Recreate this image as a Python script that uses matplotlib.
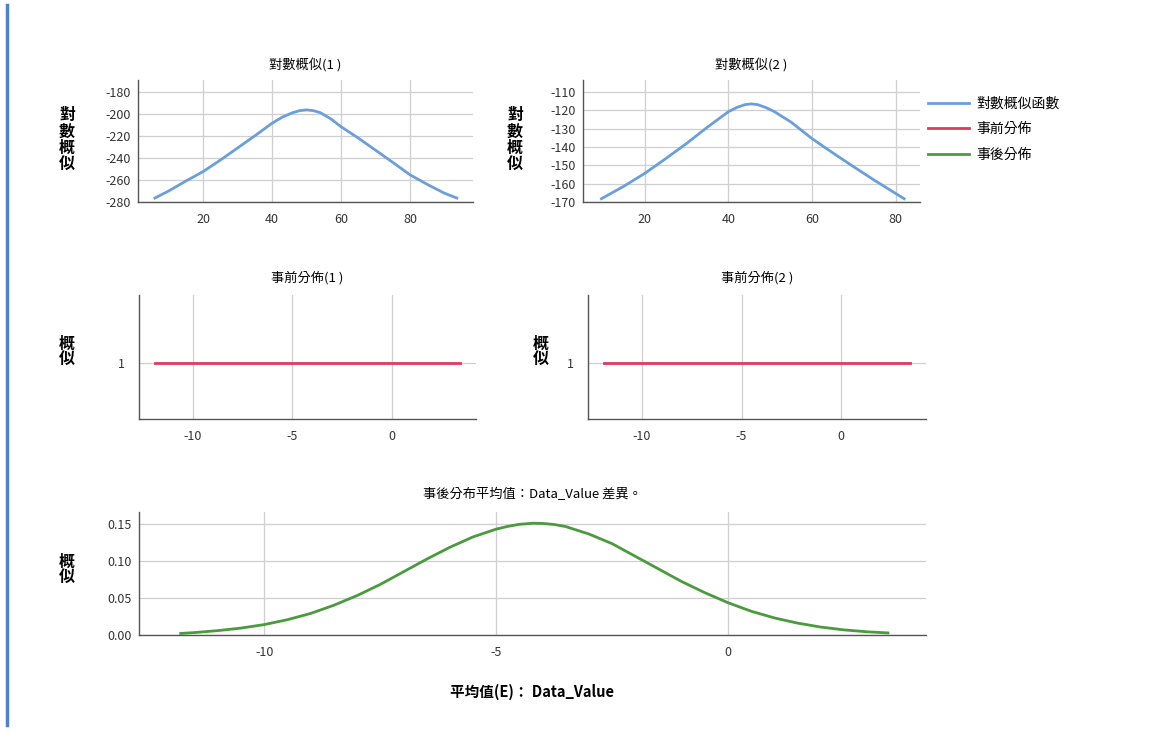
import matplotlib
matplotlib.use("Agg")
import matplotlib.pyplot as plt
from matplotlib.lines import Line2D

plt.rcParams['font.family'] = ['Noto Sans CJK TC', 'DejaVu Sans']
plt.rcParams['axes.unicode_minus'] = False

# ---------------- data ----------------
ll1_x = [6, 10, 15, 20, 25, 30, 35, 40, 43, 46, 48, 50, 52, 54, 57, 60, 65, 70, 75, 80, 85, 90, 93.6]
ll1_y = [-276.4, -270, -261, -252.4, -242, -231, -220, -208.6, -203, -199, -197.2, -196.5,
         -197.2, -199, -204.5, -211.7, -222, -233, -244, -255.3, -264, -272, -276.4]

ll2_x = [9.7, 15, 20, 25, 30, 35, 40, 42, 44, 45.4, 47, 49, 51, 55, 60, 65, 70, 75, 82]
ll2_y = [-168.2, -161.5, -154.5, -146.5, -138.2, -129.3, -120.9, -118.6, -117.0, -116.6,
         -117.0, -118.6, -120.8, -126.5, -135.5, -143.3, -150.9, -158.3, -168.2]

prior_x = [-11.9, 3.45]
prior_y = [1, 1]

post_x = [-11.8, -11.5, -11.0, -10.5, -10.0, -9.5, -9.0, -8.5, -8.0, -7.5, -7.0, -6.5,
          -6.0, -5.5, -5.0, -4.75, -4.5, -4.2, -4.0, -3.75, -3.5, -3.0, -2.5, -2.0, -1.5,
          -1.0, -0.5, 0.0, 0.5, 1.0, 1.5, 2.0, 2.5, 3.0, 3.45]
post_y = [0.0021, 0.0033, 0.0059, 0.0093, 0.0140, 0.0206, 0.0290, 0.0400, 0.0530, 0.0680,
          0.0850, 0.1020, 0.1180, 0.1320, 0.1425, 0.1462, 0.1490, 0.1505, 0.1502, 0.1488,
          0.1460, 0.1360, 0.1230, 0.1060, 0.0890, 0.0720, 0.0570, 0.0435, 0.0320, 0.0230,
          0.0160, 0.0107, 0.0069, 0.0043, 0.0028]

titles = ['對數概似(1 )', '對數概似(2 )', '事前分佈(1 )', '事前分佈(2 )', '事後分布平均值：Data_Value 差異。']
ylab_ll = '對數概似'
ylab_p = '概似'
xlab = '平均值(E)： Data_Value'
legend_labels = ['對數概似函數', '事前分佈', '事後分佈']

ll1_ticks_x = [20, 40, 60, 80]
ll1_ticks_y = [-280, -260, -240, -220, -200, -180]
ll2_ticks_x = [20, 40, 60, 80]
ll2_ticks_y = [-170, -160, -150, -140, -130, -120, -110]
m_ticks_x = [-10, -5, 0]
post_ticks_y = [0.00, 0.05, 0.10, 0.15]

BLUE = '#6a9fdb'
RED = '#e03a5a'
GREEN = '#4a9a3e'
GRID = '#cfcfcf'
SPINE = '#555555'

W, H = 1156, 740
fig = plt.figure(figsize=(W / 100, H / 100), dpi=100)
fig.patch.set_facecolor('white')


def add_ax(l, t, r, b):
    return fig.add_axes([l / W, 1 - b / H, (r - l) / W, (b - t) / H])


def style(ax, xpad=8, ypad=5):
    for s in ['top', 'right']:
        ax.spines[s].set_visible(False)
    for s in ['left', 'bottom']:
        ax.spines[s].set_color(SPINE)
        ax.spines[s].set_linewidth(1.0)
    ax.grid(True, color=GRID, linewidth=0.9)
    ax.set_axisbelow(True)
    ax.tick_params(axis='both', length=0, labelsize=9, colors='#333333')
    ax.tick_params(axis='x', pad=xpad)
    ax.tick_params(axis='y', pad=ypad)
    ax.set_facecolor('white')


# top-left
ax1 = add_ax(138, 80, 473, 202)
ax1.plot(ll1_x, ll1_y, color=BLUE, lw=2)
ax1.set_xlim(1.1, 98.3)
ax1.set_ylim(-280, -169.4)
ax1.set_xticks(ll1_ticks_x)
ax1.set_yticks(ll1_ticks_y)
style(ax1)
ax1.set_title(titles[0], fontsize=9.5, pad=8)

# top-right
ax2 = add_ax(583, 80, 920, 202)
l_ll, = ax2.plot(ll2_x, ll2_y, color=BLUE, lw=2)
ax2.set_xlim(5.3, 85.8)
ax2.set_ylim(-170, -103.6)
ax2.set_xticks(ll2_ticks_x)
ax2.set_yticks(ll2_ticks_y)
style(ax2)
ax2.set_title(titles[1], fontsize=9.5, pad=8)

# middle-left
ax3 = add_ax(139, 295, 476, 419)
l_pr, = ax3.plot(prior_x, prior_y, color=RED, lw=2)
ax3.set_xlim(-12.7, 4.25)
ax3.set_ylim(0.55, 1.55)
ax3.set_xticks(m_ticks_x)
ax3.set_yticks([1])
style(ax3, ypad=10)
ax3.set_title(titles[2], fontsize=9.5, pad=10)

# middle-right
ax4 = add_ax(588, 295, 926, 419)
ax4.plot(prior_x, prior_y, color=RED, lw=2)
ax4.set_xlim(-12.7, 4.25)
ax4.set_ylim(0.55, 1.55)
ax4.set_xticks(m_ticks_x)
ax4.set_yticks([1])
style(ax4, ypad=10)
ax4.set_title(titles[3], fontsize=9.5, pad=10)

# bottom
ax5 = add_ax(139, 512, 926, 635)
l_po, = ax5.plot(post_x, post_y, color=GREEN, lw=2)
ax5.set_xlim(-12.7, 4.27)
ax5.set_ylim(0, 0.1656)
ax5.set_xticks(m_ticks_x)
ax5.set_yticks(post_ticks_y)
ax5.yaxis.set_major_formatter(matplotlib.ticker.FormatStrFormatter('%.2f'))
style(ax5, ypad=5)
ax5.set_title(titles[4], fontsize=9.5, pad=10)
ax5.set_xlabel(xlab, fontsize=10.5, fontweight='bold', labelpad=18)

# vertical stacked y-labels
def vlabel(x, y, s, size=11.5):
    fig.text(x / W, 1 - y / H, '\n'.join(s), ha='center', va='center',
             fontsize=size, fontweight='bold', linespacing=1.05)

vlabel(67, 140, ylab_ll)
vlabel(67, 352, ylab_p)
vlabel(541, 352, ylab_p)
vlabel(67, 570, ylab_p)
vlabel(515, 140, ylab_ll)

# legend
fig.legend([l_ll, l_pr, l_po], legend_labels, loc='upper left',
           bbox_to_anchor=(915 / W, 1 - 84 / H), frameon=False, fontsize=10,
           handlelength=3.0, handletextpad=0.5, labelspacing=0.85)

# left blue rule
fig.add_artist(Line2D([7 / W, 7 / W], [1 - 5 / H, 1 - 725 / H], color='#4f81c7', lw=2.5))

fig.savefig('out.png', dpi=100, facecolor='white')
